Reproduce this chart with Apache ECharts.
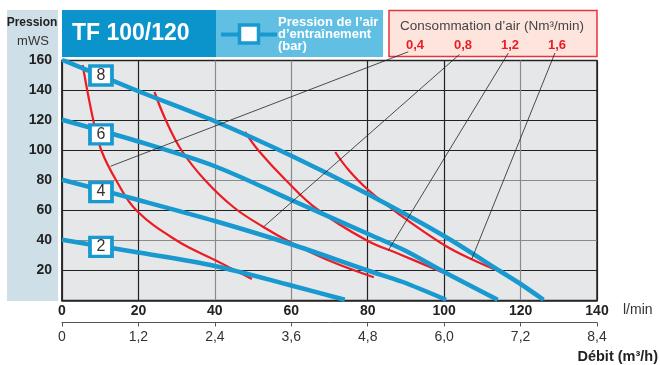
<!DOCTYPE html>
<html>
<head>
<meta charset="utf-8">
<script src="https://cdn.jsdelivr.net/npm/echarts@6/dist/echarts.min.js"></script>
<style>html,body{margin:0;padding:0;background:#fff}#c{width:660px;height:365px}</style>
</head>
<body>
<div id="c"></div>
<script>
// Blue curves: pump head (mWS) vs flow (l/min) at given air pressure (bar)
const pressureLabels = ['2', '4', '6', '8'];
const bar2 = [[0,40.5],[20,32],[40,23],[60,10],[74,0.5]];
const bar4 = [[0,80.5],[20,67],[40,53],[60,37.5],[80,20],[89,12.5],[100.5,0.5]];
const bar6 = [[0,120.5],[20,106],[40,89.5],[60,67],[80,44.5],[90,33],[100,19],[114,0.5]];
const bar8 = [[0,160.5],[20,139.5],[40,119.5],[60,96.5],[80,71],[100,43],[115,19],[120,11],[126,0.5]];
// label box positions for each pressure curve
const pressureBoxes = [[10.2,35.7],[10.2,72.3],[10.2,110.7],[10.2,150]];

// Red curves: air consumption (Nm3/min)
const airLabels = ['0,4', '0,8', '1,2', '1,6'];
const air04 = [[5.4,157],[8.2,120],[10.3,100],[14.2,80],[19.5,60],[30,40],[40,27],[49.7,14.4]];
const air08 = [[24.2,139],[27.2,120],[31.3,100],[37.5,80],[45,62],[52.7,49],[60,38.5],[70,26.5],[81.6,15.5]];
const air12 = [[47.9,112.4],[51.4,100],[58.4,80.7],[66.7,61],[79.8,40],[88.5,30.7],[100.3,18]];
const air16 = [[71.5,99],[75,87],[80,74],[88.5,57],[100,37],[107.2,27.5],[115.5,18.4]];
// leader lines from the header labels to the red curves
const leader04 = [[90.6,165.8],[12.7,89.5]];
const leader08 = [[104,164],[52.7,49]];
const leader12 = [[116.8,165],[85.4,33.5]];
const leader16 = [[129,165],[107.2,27.5]];

// Axes
const flowMin = 0, flowMax = 140, flowStep = 20;          // l/min
const headMin = 0, headMax = 160, headStep = 20;          // mWS
const m3Min = 0, m3Max = 8.4, m3Step = 1.2;               // m3/h

const BLUE = '#1899cf', RED = '#ec1c24';
const FONT = '"Liberation Sans", Arial, Helvetica, sans-serif';

const chart = echarts.init(document.getElementById('c'), null, {renderer: 'canvas'});

function blue(data) {
  return {type: 'line', data: data, showSymbol: false, symbol: 'none', smooth: 0.3, z: 4,
          lineStyle: {color: BLUE, width: 4.5, cap: 'butt'}, silent: true};
}
function red(data) {
  return {type: 'line', data: data, showSymbol: false, symbol: 'none', smooth: 0.4, z: 3,
          lineStyle: {color: RED, width: 2.2}, silent: true};
}
function leader(data) {
  return {type: 'line', data: data, showSymbol: false, symbol: 'none', clip: false, z: 6,
          lineStyle: {color: '#222', width: 0.8}, silent: true};
}

const airLabelX = [415, 463, 510, 557];

const graphics = [
  {type: 'rect', shape: {x: 7, y: 10, width: 51, height: 291}, style: {fill: '#cfdfe7'}, z: -10},
  {type: 'text', style: {text: 'Pression', x: 32, y: 23, align: 'center', verticalAlign: 'middle', font: 'bold 12px ' + FONT, fill: '#222'}},
  {type: 'text', style: {text: 'mWS', x: 33, y: 41, align: 'center', verticalAlign: 'middle', font: '13px ' + FONT, fill: '#333'}},
  {type: 'rect', shape: {x: 62, y: 10, width: 154, height: 47}, style: {fill: '#0a94cb'}},
  {type: 'text', style: {text: 'TF 100/120', x: 72, y: 34, align: 'left', verticalAlign: 'middle', font: 'bold 23px ' + FONT, fill: '#fff'}},
  {type: 'rect', shape: {x: 216, y: 10, width: 167, height: 47}, style: {fill: '#62bfe4'}},
  {type: 'line', shape: {x1: 221, y1: 34.5, x2: 277, y2: 34.5}, style: {stroke: BLUE, lineWidth: 4}},
  {type: 'rect', shape: {x: 239.5, y: 25, width: 19, height: 18}, style: {fill: '#fff', stroke: BLUE, lineWidth: 3.5}},
  {type: 'text', style: {text: 'Pression de l’air\nd’entraînement\n(bar)', x: 278, y: 34.5, align: 'left', verticalAlign: 'middle', font: 'bold 13px ' + FONT, lineHeight: 11.8, fill: '#fff'}},
  {type: 'rect', shape: {x: 389, y: 10.5, width: 208, height: 46}, style: {fill: '#fde5de', stroke: '#e8323c', lineWidth: 1.5}},
  {type: 'text', style: {text: 'Consommation d’air (Nm³/min)', x: 492, y: 26, align: 'center', verticalAlign: 'middle', font: '13.5px ' + FONT, fill: '#444'}},
  {type: 'text', style: {text: 'l/min', x: 623, y: 310, align: 'left', verticalAlign: 'middle', font: '14px ' + FONT, fill: '#333'}},
  {type: 'text', style: {text: 'Débit (m³/h)', x: 658, y: 357, align: 'right', verticalAlign: 'middle', font: 'bold 14.5px ' + FONT, fill: '#222'}}
];
airLabels.forEach((t, i) => {
  graphics.push({type: 'text', style: {text: t, x: airLabelX[i], y: 45.5, align: 'center', verticalAlign: 'middle', font: 'bold 13px ' + FONT, fill: RED}});
});

const option = {
  animation: false,
  grid: {left: 62, right: 63, top: 60.5, bottom: 64.5, show: true, backgroundColor: '#e6e7e9', borderColor: '#2a2a2a', borderWidth: 1.5, z: 0},
  xAxis: [
    {type: 'value', min: flowMin, max: flowMax, interval: flowStep, position: 'bottom',
     axisLine: {show: true, lineStyle: {color: '#2a2a2a', width: 1.5}},
     axisTick: {show: false},
     axisLabel: {margin: 4, color: '#222', fontFamily: FONT, fontWeight: 'bold', fontSize: 14},
     splitLine: {show: true, lineStyle: {width: 1.2, color: ['#222', '#222', '#8a8a8a', '#8a8a8a', '#222', '#222', '#8a8a8a', '#222']}}},
    {type: 'value', min: m3Min, max: m3Max, interval: m3Step, position: 'bottom', offset: 22,
     axisLine: {show: true, lineStyle: {color: '#555', width: 1}},
     axisTick: {show: true, length: 4, lineStyle: {color: '#555'}},
     axisLabel: {margin: 8, color: '#333', fontFamily: FONT, fontSize: 14,
                 formatter: v => v === 0 ? '0' : v.toFixed(1).replace('.', ',')},
     splitLine: {show: false}}
  ],
  yAxis: {type: 'value', min: headMin, max: headMax, interval: headStep,
    axisLine: {show: true, lineStyle: {color: '#2a2a2a', width: 1.5}},
    axisTick: {show: false},
    axisLabel: {margin: 10, color: '#222', fontFamily: FONT, fontWeight: 'bold', fontSize: 14, showMinLabel: false},
    splitLine: {show: true, lineStyle: {width: 1.2, color: ['#222', '#222', '#8a8a8a', '#222', '#8a8a8a', '#222', '#222', '#222', '#222']}}},
  graphic: graphics,
  series: [
    red(air04), red(air08), red(air12), red(air16),
    blue(bar2), blue(bar4), blue(bar6), blue(bar8),
    leader(leader04), leader(leader08), leader(leader12), leader(leader16),
    {type: 'scatter', z: 7, silent: true, symbol: 'rect', symbolSize: [22, 19],
     data: pressureBoxes.map((p, i) => ({value: p, name: pressureLabels[i]})),
     itemStyle: {color: '#fff', borderColor: BLUE, borderWidth: 3.5, opacity: 1},
     label: {show: true, position: 'inside', formatter: p => p.name, color: '#333', fontFamily: FONT, fontSize: 16}}
  ]
};
chart.setOption(option);
</script>
</body>
</html>
